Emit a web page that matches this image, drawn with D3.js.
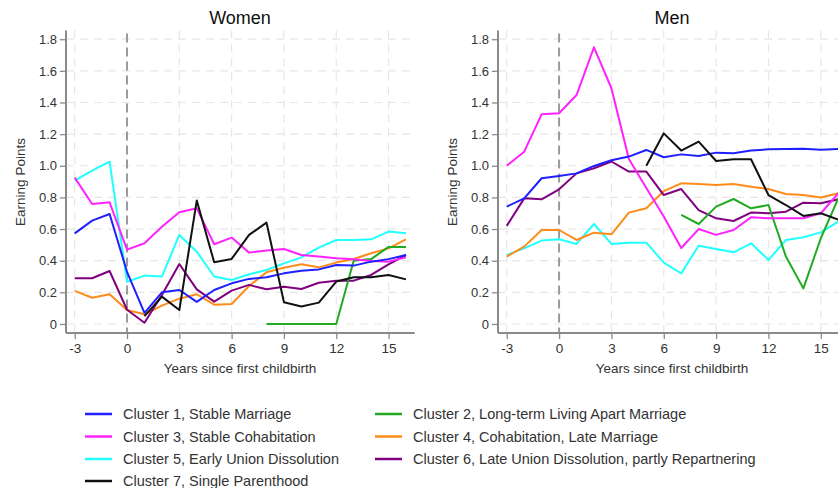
<!DOCTYPE html>
<html>
<head>
<meta charset="utf-8">
<script src="https://cdn.jsdelivr.net/npm/d3@7"></script>
<style>
  html, body { margin: 0; padding: 0; background: #fff; }
  svg { display: block; font-family: "Liberation Sans", Arial, sans-serif; }
</style>
</head>
<body>
<svg id="chart" width="838" height="488"></svg>
<script>
// ---- Data ----
const years = [-3, -2, -1, 0, 1, 2, 3, 4, 5, 6, 7, 8, 9, 10, 11, 12, 13, 14, 15, 16];
const xTicks = [-3, 0, 3, 6, 9, 12, 15];
const yTicks = [0, 0.2, 0.4, 0.6, 0.8, 1.0, 1.2, 1.4, 1.6, 1.8];
const yTickLabels = ["0", "0.2", "0.4", "0.6", "0.8", "1.0", "1.2", "1.4", "1.6", "1.8"];
const panelTitles = ["Women", "Men"];
const xAxisTitle = "Years since first childbirth";
const yAxisTitle = "Earning Points";

const clusterNames = [
  "Cluster 1, Stable Marriage",
  "Cluster 2, Long-term Living Apart Marriage",
  "Cluster 3, Stable Cohabitation",
  "Cluster 4, Cohabitation, Late Marriage",
  "Cluster 5, Early Union Dissolution",
  "Cluster 6, Late Union Dissolution, partly Repartnering",
  "Cluster 7, Single Parenthood"
];
const clusterColors = ["#1f1fff", "#22aa22", "#ff22ff", "#ff8c1a", "#22ffff", "#800080", "#111111"];

// Women (values per year, null = no data)
const womenC1 = [0.573, 0.653, 0.695, 0.33, 0.07, 0.20, 0.215, 0.14, 0.215, 0.257, 0.285, 0.295, 0.32, 0.337, 0.345, 0.373, 0.369, 0.394, 0.41, 0.436];
const womenC2 = [null, null, null, null, null, null, null, null, null, null, null, 0, 0, 0, 0, 0, 0.40, 0.41, 0.487, 0.487];
const womenC3 = [0.925, 0.758, 0.769, 0.47, 0.51, 0.615, 0.706, 0.731, 0.504, 0.546, 0.451, 0.464, 0.474, 0.436, 0.426, 0.415, 0.409, 0.398, 0.394, 0.421];
const womenC4 = [0.209, 0.166, 0.188, 0.088, 0.061, 0.116, 0.16, 0.188, 0.122, 0.126, 0.24, 0.327, 0.356, 0.377, 0.358, 0.388, 0.411, 0.447, 0.478, 0.535];
const womenC5 = [0.906, 0.969, 1.026, 0.267, 0.306, 0.30, 0.563, 0.457, 0.30, 0.278, 0.314, 0.341, 0.383, 0.421, 0.483, 0.531, 0.531, 0.535, 0.584, 0.573];
const womenC6 = [0.289, 0.289, 0.335, 0.09, 0.008, 0.183, 0.379, 0.219, 0.141, 0.211, 0.247, 0.219, 0.236, 0.221, 0.261, 0.274, 0.274, 0.31, 0.377, 0.436];
const womenC7 = [null, null, null, null, 0.05, 0.173, 0.088, 0.78, 0.39, 0.411, 0.563, 0.641, 0.137, 0.11, 0.135, 0.268, 0.295, 0.295, 0.31, 0.282];

// Men
const menC1 = [0.742, 0.794, 0.921, 0.936, 0.952, 0.999, 1.035, 1.058, 1.10, 1.054, 1.072, 1.062, 1.083, 1.079, 1.096, 1.104, 1.106, 1.108, 1.102, 1.106];
const menC2 = [null, null, null, null, null, null, null, null, null, null, 0.689, 0.632, 0.742, 0.79, 0.731, 0.752, 0.426, 0.225, 0.542, 0.794];
const menC3 = [1.0, 1.089, 1.325, 1.332, 1.447, 1.749, 1.49, 1.043, 0.86, 0.68, 0.48, 0.60, 0.563, 0.594, 0.674, 0.668, 0.668, 0.668, 0.70, 0.826];
const menC4 = [0.426, 0.489, 0.594, 0.594, 0.531, 0.577, 0.567, 0.704, 0.731, 0.84, 0.889, 0.885, 0.879, 0.885, 0.868, 0.853, 0.822, 0.815, 0.799, 0.826];
const menC5 = [0.436, 0.478, 0.527, 0.535, 0.506, 0.632, 0.506, 0.514, 0.514, 0.388, 0.32, 0.495, 0.474, 0.453, 0.51, 0.405, 0.531, 0.548, 0.579, 0.647];
const menC6 = [0.62, 0.794, 0.788, 0.851, 0.952, 0.984, 1.027, 0.963, 0.963, 0.815, 0.853, 0.72, 0.668, 0.651, 0.704, 0.70, 0.71, 0.767, 0.763, 0.788];
const menC7 = [null, null, null, null, null, null, null, null, 1.0, 1.205, 1.096, 1.153, 1.03, 1.041, 1.041, 0.815, 0.752, 0.683, 0.70, 0.66];

// draw order (later on top)
const drawOrder = [4, 3, 5, 1, 2, 0, 6];
const womenSeries = [womenC1, womenC2, womenC3, womenC4, womenC5, womenC6, womenC7];
const menSeries = [menC1, menC2, menC3, menC4, menC5, menC6, menC7];

// ---- Layout ----
const svg = d3.select("#chart");
const panels = [
  { title: panelTitles[0], left: 66, right: 414.7, cx: 240, series: womenSeries },
  { title: panelTitles[1], left: 498, right: 847, cx: 672, series: menSeries }
];
const plotTop = 30.5, plotBottom = 333;

svg.append("defs").append("clipPath").attr("id", "viewclip")
  .append("rect").attr("x", 0).attr("y", 0).attr("width", 838).attr("height", 488);

panels.forEach((p, pi) => {
  const x = d3.scaleLinear().domain([-3.5, 16.5]).range([p.left, p.right]);
  const y = d3.scaleLinear().domain([-0.057, 1.855]).range([plotBottom, plotTop]);
  const g = svg.append("g").attr("clip-path", "url(#viewclip)");

  // grid
  g.append("g").selectAll("line.h").data(yTicks).join("line")
    .attr("x1", p.left).attr("x2", p.right)
    .attr("y1", d => y(d)).attr("y2", d => y(d))
    .attr("stroke", "#e6e6e6").attr("stroke-width", 1.2).attr("stroke-dasharray", "8,6");
  g.append("g").selectAll("line.v").data(xTicks.filter(d => d !== 0)).join("line")
    .attr("x1", d => x(d)).attr("x2", d => x(d))
    .attr("y1", plotTop).attr("y2", plotBottom)
    .attr("stroke", "#e6e6e6").attr("stroke-width", 1.2).attr("stroke-dasharray", "8,6");

  // zero reference line
  g.append("line")
    .attr("x1", x(0)).attr("x2", x(0)).attr("y1", plotTop + 3).attr("y2", plotBottom)
    .attr("stroke", "#9a9a9a").attr("stroke-width", 2).attr("stroke-dasharray", "9,5");

  // axes
  const yAxis = d3.axisLeft(y).tickValues(yTicks).tickSize(6).tickPadding(3)
    .tickFormat((d, i) => yTickLabels[i]);
  const gy = g.append("g").attr("transform", `translate(${p.left},0)`).call(yAxis);
  gy.select(".domain").attr("d", `M0,${plotTop}V${plotBottom}`).attr("stroke", "#8a8a8a").attr("stroke-width", 2);
  gy.selectAll(".tick line").attr("stroke", "#8a8a8a").attr("stroke-width", 1.3);
  gy.selectAll(".tick text").attr("fill", "#333").style("font-size", "13px")
    .style("font-family", "Liberation Sans, Arial, sans-serif");

  const xAxis = d3.axisBottom(x).tickValues(xTicks).tickSize(6).tickPadding(4).tickFormat(d3.format("d"));
  const gx = g.append("g").attr("transform", `translate(0,${plotBottom})`).call(xAxis);
  gx.select(".domain").attr("d", `M${p.left},0H${p.right}`).attr("stroke", "#8a8a8a").attr("stroke-width", 2);
  gx.selectAll(".tick line").attr("stroke", "#8a8a8a").attr("stroke-width", 1.3);
  gx.selectAll(".tick text").attr("fill", "#333").style("font-size", "13.5px")
    .style("font-family", "Liberation Sans, Arial, sans-serif")
    .text(d => d < 0 ? "-" + Math.abs(d) : String(d));

  // lines
  const line = d3.line()
    .defined(d => d.v !== null)
    .x(d => x(d.t)).y(d => y(d.v));
  drawOrder.forEach(ci => {
    const pts = years.map((t, i) => ({ t, v: p.series[ci][i] }));
    g.append("path").datum(pts)
      .attr("d", line)
      .attr("fill", "none")
      .attr("stroke", clusterColors[ci])
      .attr("stroke-width", 2)
      .attr("stroke-linejoin", "round");
  });

  // titles
  svg.append("text").attr("x", p.cx).attr("y", 24).attr("text-anchor", "middle")
    .style("font-size", "18px").attr("fill", "#111").text(p.title);
  svg.append("text").attr("x", p.cx).attr("y", 373).attr("text-anchor", "middle")
    .style("font-size", "13.5px").attr("fill", "#333").text(xAxisTitle);
  const yl = (p.left - 46);
  svg.append("text")
    .attr("transform", `translate(${yl},182) rotate(-90)`)
    .attr("text-anchor", "middle").attr("dy", "0.35em")
    .style("font-size", "13.5px").attr("fill", "#333").text(yAxisTitle);
});

// ---- Legend ----
const legendItems = [
  { ci: 0, col: 0, row: 0 }, { ci: 1, col: 1, row: 0 },
  { ci: 2, col: 0, row: 1 }, { ci: 3, col: 1, row: 1 },
  { ci: 4, col: 0, row: 2 }, { ci: 5, col: 1, row: 2 },
  { ci: 6, col: 0, row: 3 }
];
const colX = [85, 375];
const rowY = [414, 436.5, 459, 481];
const lg = svg.append("g");
legendItems.forEach(it => {
  const gx = colX[it.col], gyy = rowY[it.row];
  lg.append("line").attr("x1", gx).attr("x2", gx + 27).attr("y1", gyy).attr("y2", gyy)
    .attr("stroke", clusterColors[it.ci]).attr("stroke-width", 2.5);
  lg.append("text").attr("x", gx + 38).attr("y", gyy).attr("dy", "0.35em")
    .style("font-size", "14.5px").attr("fill", "#333").text(clusterNames[it.ci]);
});
</script>
</body>
</html>
